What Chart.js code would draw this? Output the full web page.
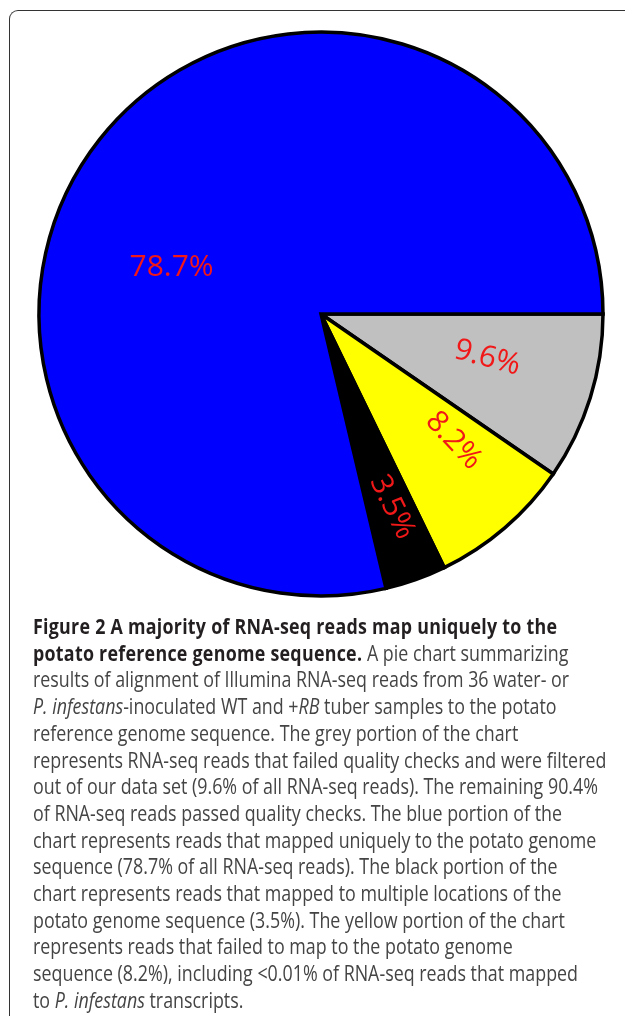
<!DOCTYPE html>
<html>
<head>
<meta charset="utf-8">
<script src="https://cdn.jsdelivr.net/npm/chart.js@4.4.0/dist/chart.umd.min.js"></script>
<style>
    html, body {
        margin: 0;
        padding: 0;
        width: 625px;
        height: 1016px;
        overflow: hidden;
        background: #ffffff;
    }
    #frame {
        position: absolute;
        left: 9px;
        top: 10px;
        width: 800px;
        height: 1200px;
        border-top: 1.5px solid #333333;
        border-left: 1.5px solid #333333;
        border-top-left-radius: 9px;
    }
    #pie-chart {
        position: absolute;
        left: 21px;
        top: 14px;
    }
    #caption {
        position: absolute;
        left: 33px;
        top: 613px;
        font-family: "Open Sans", sans-serif;
        font-size: 21px;
        line-height: 26.7px;
        color: #444444;
        transform: scaleX(0.85);
        transform-origin: 0 0;
        white-space: nowrap;
    }
    #caption b {
        color: #231f20;
        font-weight: 700;
        letter-spacing: 0.3px;
    }
</style>
</head>
<body>
<div id="frame"></div>
<canvas id="pie-chart" width="600" height="600"></canvas>
<div id="caption">
    <div><b>Figure 2 A majority of RNA-seq reads map uniquely to the</b></div>
    <div><b>potato reference genome sequence.</b> A pie chart summarizing</div>
    <div>results of alignment of Illumina RNA-seq reads from 36 water- or</div>
    <div><i>P. infestans</i>-inoculated WT and +<i>RB</i> tuber samples to the potato</div>
    <div>reference genome sequence. The grey portion of the chart</div>
    <div>represents RNA-seq reads that failed quality checks and were filtered</div>
    <div>out of our data set (9.6% of all RNA-seq reads). The remaining 90.4%</div>
    <div>of RNA-seq reads passed quality checks. The blue portion of the</div>
    <div>chart represents reads that mapped uniquely to the potato genome</div>
    <div>sequence (78.7% of all RNA-seq reads). The black portion of the</div>
    <div>chart represents reads that mapped to multiple locations of the</div>
    <div>potato genome sequence (3.5%). The yellow portion of the chart</div>
    <div>represents reads that failed to map to the potato genome</div>
    <div>sequence (8.2%), including &lt;0.01% of RNA-seq reads that mapped</div>
    <div>to <i>P. infestans</i> transcripts.</div>
</div>
<script>
// slices clockwise from 3 o'clock
var categories = ["Failed quality checks", "Failed to map", "Mapped to multiple locations", "Mapped uniquely"];
var percentages = [9.6, 8.2, 3.5, 78.7];
var sliceColors = ["#c0c0c0", "#ffff00", "#000000", "#0000ff"];

// where each label sits inside its slice (fraction of radius, angle shift, text rotation)
var labelPlacement = [
    { r: 0.61, shift: -2.5, rot: 15 },
    { r: 0.65, shift: -5.6, rot: 47 },
    { r: 0.73, shift: -0.6, rot: 64 },
    { r: 0.555, shift: -21, rot: 0 }
];

var sliceLabels = {
    id: "sliceLabels",
    afterDatasetsDraw: function (chart) {
        var ctx = chart.ctx;
        var meta = chart.getDatasetMeta(0);
        ctx.save();
        ctx.font = "30px 'Open Sans', sans-serif";
        ctx.fillStyle = "#f01818";
        ctx.textAlign = "center";
        ctx.textBaseline = "middle";
        meta.data.forEach(function (arc, i) {
            var p = labelPlacement[i];
            var mid = (arc.startAngle + arc.endAngle) / 2 + p.shift * Math.PI / 180;
            var r = arc.outerRadius * p.r;
            var x = arc.x + Math.cos(mid) * r;
            var y = arc.y + Math.sin(mid) * r;
            ctx.save();
            ctx.translate(x, y);
            ctx.rotate(p.rot * Math.PI / 180);
            ctx.fillText(percentages[i] + "%", 0, 0);
            ctx.restore();
        });
        ctx.restore();
    }
};

document.addEventListener("DOMContentLoaded", function () {
    var Target = document.getElementById("pie-chart");
    var Charts = new Chart(Target, {
        type: "pie",
        data: {
            labels: categories,
            datasets: [
                {
                    data: percentages,
                    backgroundColor: sliceColors,
                    borderColor: "#000000",
                    borderWidth: 3.5,
                    borderJoinStyle: "miter"
                }
            ]
        },
        options: {
            responsive: false,
            animation: false,
            rotation: 90,
            radius: 282,
            layout: { padding: 0 },
            plugins: {
                legend: { display: false },
                tooltip: { enabled: false }
            }
        },
        plugins: [sliceLabels]
    });
});
</script>
</body>
</html>
